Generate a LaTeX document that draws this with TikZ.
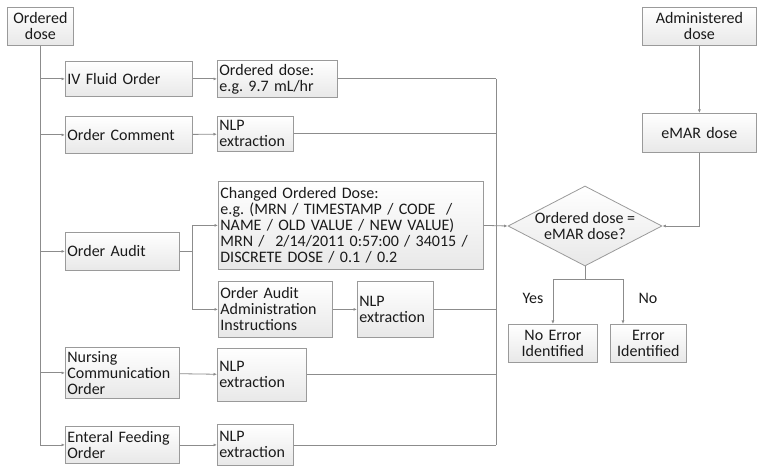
\documentclass[tikz,border=0pt]{standalone}
\usepackage{fontspec}
\setmainfont{Carlito}
\usepackage{tikz}
\usetikzlibrary{arrows.meta,positioning,shapes.geometric,shadows,calc}
\frenchspacing
\definecolor{edge}{HTML}{8C8C8C}
\definecolor{frame}{HTML}{9A9A9A}
\definecolor{ink}{HTML}{1A1A1A}
\newcommand{\boxfont}{\fontsize{16}{16}\selectfont}
\tikzset{
  databox/.style={draw=frame, line width=0.8pt, top color=white, bottom color=gray!18,
    drop shadow={shadow xshift=1pt, shadow yshift=-1pt, opacity=0.2},
    anchor=north west, align=left, inner sep=2pt, text=ink, font=\boxfont},
  midbox/.style={databox, align=center},
  decbox/.style={diamond, draw=frame, line width=0.8pt, top color=white, bottom color=gray!18,
    inner sep=0pt, minimum width=154pt, minimum height=80pt},
  link/.style={draw=edge, line width=0.8pt},
  arr/.style={-{Latex[length=3.5pt,width=3pt]}, link},
  tag/.style={text=ink, font=\boxfont, inner sep=0pt}
}

\begin{document}
\begin{tikzpicture}[x=1pt,y=-1pt]
        \useasboundingbox (0,0) rectangle (764,473);
        % ordered side
        \node[midbox, text width=62pt, minimum height=38pt] (odose) at (7,7) {Ordered\\dose};
        \node[databox, text width=123pt, minimum height=35pt] (ivf) at (65,61) {IV Fluid Order};
        \node[databox, text width=116pt, minimum height=37pt] (ivfdose) at (217,60) {Ordered dose:\\e.g. 9.7 mL/hr};
        \node[databox, text width=123pt, minimum height=37pt] (ocom) at (65,116) {Order Comment};
        \node[databox, text width=72pt, minimum height=35pt] (ocomnlp) at (217,116) {NLP\\extraction};
        \node[databox, text width=110pt, minimum height=38pt] (audit) at (65,232) {Order Audit};
        \node[databox, text width=261pt, minimum height=88pt] (cod) at (218,181)
          {Changed Ordered Dose:\\e.g. (MRN / TIMESTAMP / CODE~~/\\NAME / OLD VALUE / NEW VALUE)\\MRN /~~2/14/2011 0:57:00 / 34015 /\\DISCRETE DOSE / 0.1 / 0.2};
        \node[databox, text width=110pt, minimum height=56pt] (oaai) at (218,281) {Order Audit\\Administration\\Instructions};
        \node[databox, text width=72pt, minimum height=56pt] (oaainlp) at (357,281) {NLP\\extraction};
        \node[databox, text width=110pt, minimum height=51pt] (nco) at (65,347) {Nursing\\Communication\\Order};
        \node[databox, text width=85pt, minimum height=53pt] (nconlp) at (217,348) {NLP\\extraction};
        \node[databox, text width=110pt, minimum height=37pt] (efo) at (65,426) {Enteral Feeding\\Order};
        \node[databox, text width=72pt, minimum height=41pt] (efonlp) at (217,424) {NLP\\extraction};
        % administered side
        \node[midbox, text width=110pt, minimum height=38pt] (adm) at (642,7) {Administered\\dose};
        \node[midbox, text width=110pt, minimum height=39pt] (emar) at (642,113) {eMAR dose};
        \node[decbox] (dec) at (585,226) {};
        \node[tag, align=center] (dectxt) at (dec.center) {Ordered dose =\\eMAR dose?};
        \node[midbox, text width=85pt, minimum height=38pt] (noerr) at (508,324) {No Error\\Identified};
        \node[midbox, text width=72pt, minimum height=38pt] (err) at (610,324) {Error\\Identified};
        \node[tag] (yes) at (533,298) {Yes};
        \node[tag] (no) at (648,298) {No};
        % connectors
        \draw[link] (odose.south) -- (odose.south |- efo.west);
        \foreach \n in {ivf,ocom,audit,nco,efo}
          \draw[arr] (odose.south |- \n.west) -- (\n.west);
        \draw[arr] (ivf) -- (ivfdose);
        \draw[arr] (ocom) -- (ocomnlp);
        \draw[arr] (oaai) -- (oaainlp);
        \draw[arr] (nco) -- (nconlp);
        \draw[arr] (efo) -- (efonlp);
        \draw[link] (audit.east) -- ++(13,0) coordinate (aj);
        \draw[arr] (aj) |- (cod.west);
        \draw[arr] (aj) |- (oaai.west);
        \coordinate (col) at (496,0);
        \foreach \n in {ivfdose,ocomnlp,oaainlp,nconlp,efonlp}
          \draw[link] (\n.east) -- (col |- \n.east);
        \draw[link] (col |- ivfdose.east) -- (col |- efonlp.east);
        \draw[arr] (cod.east) -- (dec.west);
        \draw[arr] (adm) -- (emar);
        \draw[arr] (emar.south) |- (dec.east);
        \draw[link] (dec.south) -- ++(0,13) coordinate (dj);
        \draw[arr] (dj) -| (noerr.north);
        \draw[arr] (dj) -| ([xshift=13pt]err.north west);
      \end{tikzpicture}
\end{document}
